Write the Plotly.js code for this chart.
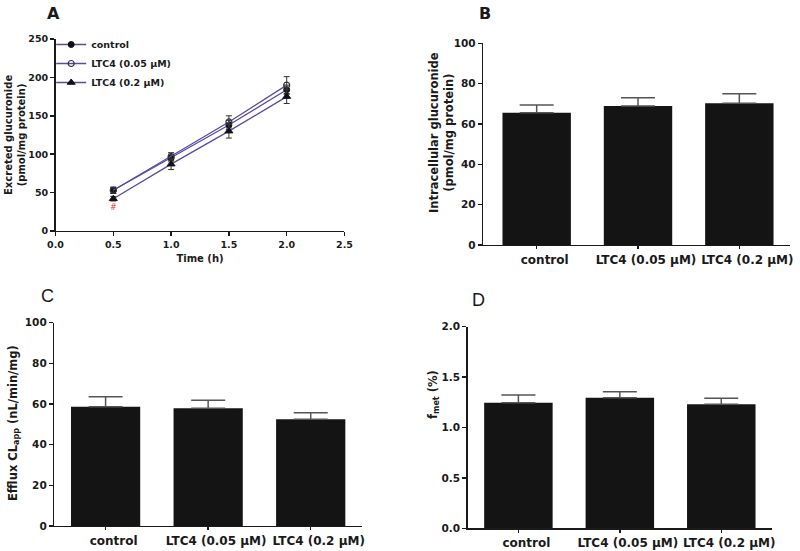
<!DOCTYPE html>
<html>
<head>
<meta charset="utf-8">
<script src="https://cdn.plot.ly/plotly-3.0.1.min.js"></script>
<style>html,body{margin:0;padding:0;background:#fff;}#chart{width:800px;height:551px;}</style>
</head>
<body>
<div id="chart"></div>
<script>
// ---- Data ----
const timeH = [0.5, 1.0, 1.5, 2.0];
const controlA = [53, 95, 138, 184];
const controlErrA = [4, 5, 6, 6];
const ltc005A = [53, 97, 142, 190];
const ltc005ErrA = [4, 5, 8, 11];
const ltc02A = [42, 87, 130, 175];
const ltc02ErrA = [3, 7, 9, 9];
const seriesNamesA = ['control', 'LTC4 (0.05 μM)', 'LTC4 (0.2 μM)'];
const hashMark = {x: 0.5, y: 30, text: '#'};

const categories = ['control', 'LTC4 (0.05 μM)', 'LTC4 (0.2 μM)'];
const intracellular = [65.6, 68.9, 70.3];
const intracellularErr = [3.8, 4.1, 4.7];
const effluxCL = [58.7, 57.9, 52.5];
const effluxCLErr = [4.9, 3.9, 3.2];
const fmet = [1.246, 1.296, 1.23];
const fmetErr = [0.076, 0.059, 0.059];

const panelLabels = ['A', 'B', 'C', 'D'];
const yTitles = ['Excreted glucuronide<br>(pmol/mg protein)',
                 'Intracellular glucuronide<br>(pmol/mg protein)',
                 'Efflux CL<sub>app</sub> (nL/min/mg)',
                 'f<sub>met</sub> (%)'];

// ---- Styles ----
const FONT = '"DejaVu Sans", "Liberation Sans", Arial, sans-serif';
const INK = '#1a1a1a';
const LINEC = '#5a4b9e';
const zeros = n => new Array(n).fill(0);

const traces = [];
const markerDefs = [
  {symbol: 'circle', size: 6, color: '#111', line: {color: '#111', width: 1}},
  {symbol: 'circle-open', size: 6, color: '#333', line: {color: '#333', width: 1.2}},
  {symbol: 'triangle-up', size: 7, color: '#111', line: {color: '#111', width: 1}}
];
[[controlA, controlErrA], [ltc005A, ltc005ErrA], [ltc02A, ltc02ErrA]].forEach((s, i) => {
  traces.push({
    type: 'scatter', mode: 'lines+markers', name: seriesNamesA[i],
    x: timeH, y: s[0], xaxis: 'x', yaxis: 'y',
    line: {color: LINEC, width: 1.3},
    marker: markerDefs[i],
    error_y: {type: 'data', array: s[1], visible: true, color: '#333', thickness: 1, width: 3}
  });
});

function barTrace(vals, errs, xa, ya) {
  return {
    type: 'bar', x: categories, y: vals, xaxis: xa, yaxis: ya, showlegend: false,
    width: 0.675,
    marker: {color: '#141414', line: {color: '#141414', width: 0}},
    error_y: {type: 'data', symmetric: false, array: errs, arrayminus: zeros(errs.length),
              visible: true, color: '#555', thickness: 1.5, width: 17}
  };
}
traces.push(barTrace(intracellular, intracellularErr, 'x2', 'y2'));
traces.push(barTrace(effluxCL, effluxCLErr, 'x3', 'y3'));
traces.push(barTrace(fmet, fmetErr, 'x4', 'y4'));

const axBase = {
  showline: true, linecolor: INK, linewidth: 1.5, showgrid: false, zeroline: false,
  ticks: 'outside', ticklen: 4, tickwidth: 1.5, tickcolor: INK, mirror: false,
  fixedrange: true
};
const tickFontSmall = {family: FONT, size: 9.5, color: INK, weight: 'bold'};
const tickFont = {family: FONT, size: 10.5, color: INK, weight: 'bold'};
const catFont = {family: FONT, size: 12, color: INK, weight: 'bold'};
const titleFontA = {family: FONT, size: 10, color: INK, weight: 'bold'};
const titleFont = {family: FONT, size: 11.5, color: INK, weight: 'bold'};

function yTitleAnn(text, cx, cy, font) {
  return {x: cx / 800, y: 1 - cy / 551, xref: 'paper', yref: 'paper', text: text,
          textangle: -90, showarrow: false, xanchor: 'center', yanchor: 'middle', font: font};
}
function letterAnn(text, cx, cy, bold) {
  return {x: cx / 800, y: 1 - cy / 551, xref: 'paper', yref: 'paper', text: text,
          showarrow: false, xanchor: 'center', yanchor: 'middle',
          font: bold ? {family: FONT, size: 16, color: INK, weight: 'bold'}
                     : {family: '"Liberation Sans", Arial, sans-serif', size: 18, color: INK}};
}
const catAxis = (domain, range, anchor) => Object.assign({}, axBase, {
  domain: domain, range: range, anchor: anchor, type: 'category', ticklen: 3,
  tickfont: catFont, tickangle: 0, ticklabelshift: 8});

const layout = {
  width: 800, height: 551,
  margin: {l: 0, r: 0, t: 0, b: 0},
  paper_bgcolor: '#fff', plot_bgcolor: '#fff',
  showlegend: true,
  legend: {x: 0.064, y: 1 - 30 / 551, xanchor: 'left', yanchor: 'top',
           font: {family: FONT, size: 9.5, color: INK, weight: 'bold'},
           bgcolor: 'rgba(0,0,0,0)', tracegroupgap: 0},
  // Panel A
  xaxis: Object.assign({}, axBase, {domain: [0.0694, 0.4306], range: [0, 2.5], anchor: 'y',
    tickvals: [0, 0.5, 1, 1.5, 2, 2.5], ticktext: ['0.0','0.5','1.0','1.5','2.0','2.5'],
    tickfont: tickFontSmall,
    title: {text: 'Time (h)', font: titleFontA, standoff: 6}}),
  yaxis: Object.assign({}, axBase, {domain: [0.5808, 0.9292], range: [0, 250], anchor: 'x',
    tickvals: [0, 50, 100, 150, 200, 250], tickfont: tickFontSmall}),
  // Panel B
  xaxis2: catAxis([0.6041, 0.9875], [-0.527, 2.5], 'y2'),
  yaxis2: Object.assign({}, axBase, {domain: [0.5554, 0.9214], range: [0, 100], anchor: 'x2',
    tickvals: [0, 20, 40, 60, 80, 100], tickfont: tickFont}),
  // Panel C
  xaxis3: catAxis([0.0679, 0.4525], [-0.5, 2.5], 'y3'),
  yaxis3: Object.assign({}, axBase, {domain: [0.0454, 0.4143], range: [0, 100], anchor: 'x3',
    tickvals: [0, 20, 40, 60, 80, 100], tickfont: tickFont}),
  // Panel D
  xaxis4: catAxis([0.5846, 0.965], [-0.5, 2.5], 'y4'),
  yaxis4: Object.assign({}, axBase, {domain: [0.0412, 0.4071], range: [0, 2], anchor: 'x4',
    tickvals: [0, 0.5, 1, 1.5, 2], ticktext: ['0.0','0.5','1.0','1.5','2.0'], tickfont: tickFont}),
  annotations: [
    {x: hashMark.x, y: hashMark.y, xref: 'x', yref: 'y', text: hashMark.text, showarrow: false,
     font: {family: FONT, size: 8, color: '#e0403a'}},
    letterAnn(panelLabels[0], 53, 13, true),
    letterAnn(panelLabels[1], 485, 13, true),
    letterAnn(panelLabels[2], 47, 296, false),
    letterAnn(panelLabels[3], 478, 300, false),
    yTitleAnn(yTitles[0], 15, 135, titleFontA),
    yTitleAnn(yTitles[1], 441, 133, titleFont),
    yTitleAnn(yTitles[2], 13, 423, titleFont),
    yTitleAnn(yTitles[3], 433, 395, titleFont)
  ]
};

Plotly.newPlot('chart', traces, layout, {displayModeBar: false, staticPlot: true});
</script>
</body>
</html>
